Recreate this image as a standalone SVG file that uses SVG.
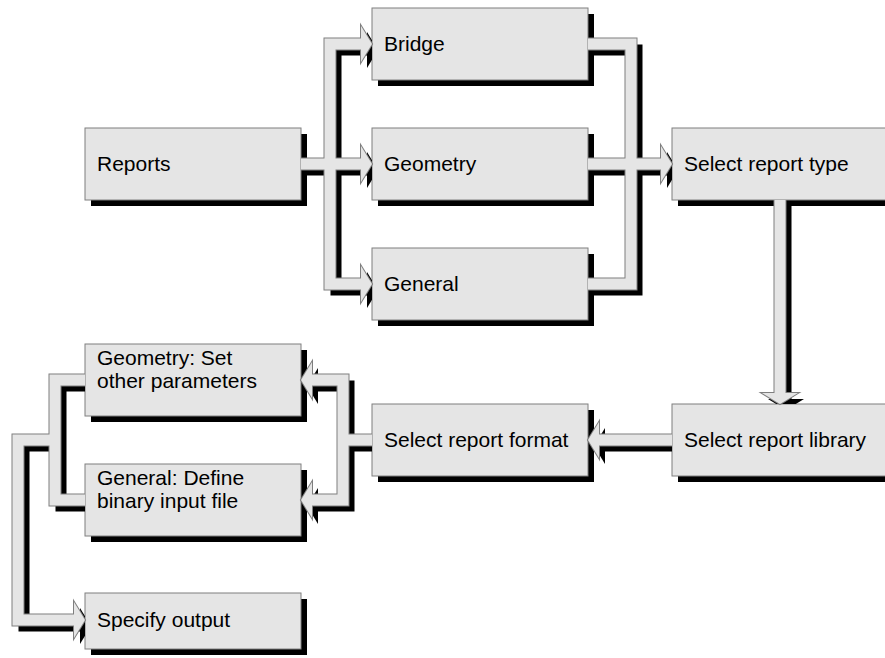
<svg xmlns="http://www.w3.org/2000/svg" xmlns:xlink="http://www.w3.org/1999/xlink" width="885" height="658" viewBox="0 0 885 658">
<style>
.bx{fill:#e5e5e5;stroke:#7f7f7f;stroke-width:1}
.sh{fill:#000}
.t{font-family:"Liberation Sans",Arial,sans-serif;font-size:21px;fill:#000}
.bs{fill:none;stroke:#000;stroke-width:11;stroke-linejoin:miter}
.bo{fill:none;stroke:#7f7f7f;stroke-width:13;stroke-linejoin:miter}
.bf{fill:none;stroke:#e5e5e5;stroke-width:11;stroke-linejoin:miter}
.hs{fill:#000}
.ho{fill:#7f7f7f;stroke:#7f7f7f;stroke-width:2;stroke-linejoin:miter}
.hf{fill:#e5e5e5}
</style>
<defs>
<path id="hd" d="M-11,-18 L0,0 L-11,18 Z"/>
<path id="c1a" d="M301,164 H365"/>
<path id="c1b" d="M365,44 H330 V284 H365"/>
<path id="c2a" d="M588,44 H631 V284 H588"/>
<path id="c2b" d="M588,164 H665"/>
<path id="c3" d="M780,200 V397"/>
<path id="c4" d="M672,440 H595"/>
<path id="c5a" d="M372,440 H343"/>
<path id="c5b" d="M308,380 H343 V500 H308"/>
<path id="c6a" d="M85,380 H55 V500 H85"/>
<path id="c6b" d="M55,440 H18 V620 H78"/>
<g id="bands">
<use xlink:href="#c1a"/><use xlink:href="#c1b"/><use xlink:href="#c2a"/><use xlink:href="#c2b"/><use xlink:href="#c3"/><use xlink:href="#c4"/><use xlink:href="#c5a"/><use xlink:href="#c5b"/><use xlink:href="#c6a"/><use xlink:href="#c6b"/>
</g>
<g id="heads">
<use xlink:href="#hd" transform="translate(372,44)"/>
<use xlink:href="#hd" transform="translate(372,164)"/>
<use xlink:href="#hd" transform="translate(372,284)"/>
<use xlink:href="#hd" transform="translate(672,164)"/>
<use xlink:href="#hd" transform="translate(780,404) rotate(90)"/>
<use xlink:href="#hd" transform="translate(588,440) rotate(180)"/>
<use xlink:href="#hd" transform="translate(301,380) rotate(180)"/>
<use xlink:href="#hd" transform="translate(301,500) rotate(180)"/>
<use xlink:href="#hd" transform="translate(85,620)"/>
</g>
<mask id="nobox" maskUnits="userSpaceOnUse" x="0" y="0" width="885" height="658">
<rect x="0" y="0" width="885" height="658" fill="#fff"/>
<g fill="#000">
<rect x="85" y="128" width="216" height="72"/>
<rect x="372" y="8" width="216" height="72"/>
<rect x="372" y="128" width="216" height="72"/>
<rect x="372" y="248" width="216" height="72"/>
<rect x="672" y="128" width="216" height="72"/>
<rect x="672" y="404" width="216" height="72"/>
<rect x="372" y="404" width="216" height="72"/>
<rect x="85" y="344" width="216" height="72"/>
<rect x="85" y="464" width="216" height="72"/>
<rect x="85" y="593" width="216" height="56"/>
</g>
</mask>
</defs>

<g id="reports"><rect class="sh" x="91" y="134" width="216" height="72"/><rect class="bx" x="85" y="128" width="216" height="72"/><text class="t" x="97" y="171">Reports</text></g>
<g id="bridge"><rect class="sh" x="378" y="14" width="216" height="72"/><rect class="bx" x="372" y="8" width="216" height="72"/><text class="t" x="384" y="51">Bridge</text></g>
<g id="geometry"><rect class="sh" x="378" y="134" width="216" height="72"/><rect class="bx" x="372" y="128" width="216" height="72"/><text class="t" x="384" y="171">Geometry</text></g>
<g id="general"><rect class="sh" x="378" y="254" width="216" height="72"/><rect class="bx" x="372" y="248" width="216" height="72"/><text class="t" x="384" y="291">General</text></g>
<g id="select-type"><rect class="sh" x="678" y="134" width="216" height="72"/><rect class="bx" x="672" y="128" width="216" height="72"/><text class="t" x="684" y="171">Select report type</text></g>
<g id="select-library"><rect class="sh" x="678" y="410" width="216" height="72"/><rect class="bx" x="672" y="404" width="216" height="72"/><text class="t" x="684" y="447">Select report library</text></g>
<g id="select-format"><rect class="sh" x="378" y="410" width="216" height="72"/><rect class="bx" x="372" y="404" width="216" height="72"/><text class="t" x="384" y="447">Select report format</text></g>
<g id="geometry-set"><rect class="sh" x="91" y="350" width="216" height="72"/><rect class="bx" x="85" y="344" width="216" height="72"/><text class="t" x="97" y="365">Geometry: Set</text><text class="t" x="97" y="388">other parameters</text></g>
<g id="general-define"><rect class="sh" x="91" y="470" width="216" height="72"/><rect class="bx" x="85" y="464" width="216" height="72"/><text class="t" x="97" y="485">General: Define</text><text class="t" x="97" y="508">binary input file</text></g>
<g id="specify-output"><rect class="sh" x="91" y="599" width="216" height="56"/><rect class="bx" x="85" y="593" width="216" height="56"/><text class="t" x="97" y="627">Specify output</text></g>

<g id="connectors">
<g mask="url(#nobox)"><g transform="translate(6,6)"><use xlink:href="#bands" class="bs"/><use xlink:href="#heads" class="hs"/></g></g>
<use xlink:href="#bands" class="bo"/>
<use xlink:href="#heads" class="ho"/>
<use xlink:href="#bands" class="bf"/>
<use xlink:href="#heads" class="hf"/>
</g>
</svg>
